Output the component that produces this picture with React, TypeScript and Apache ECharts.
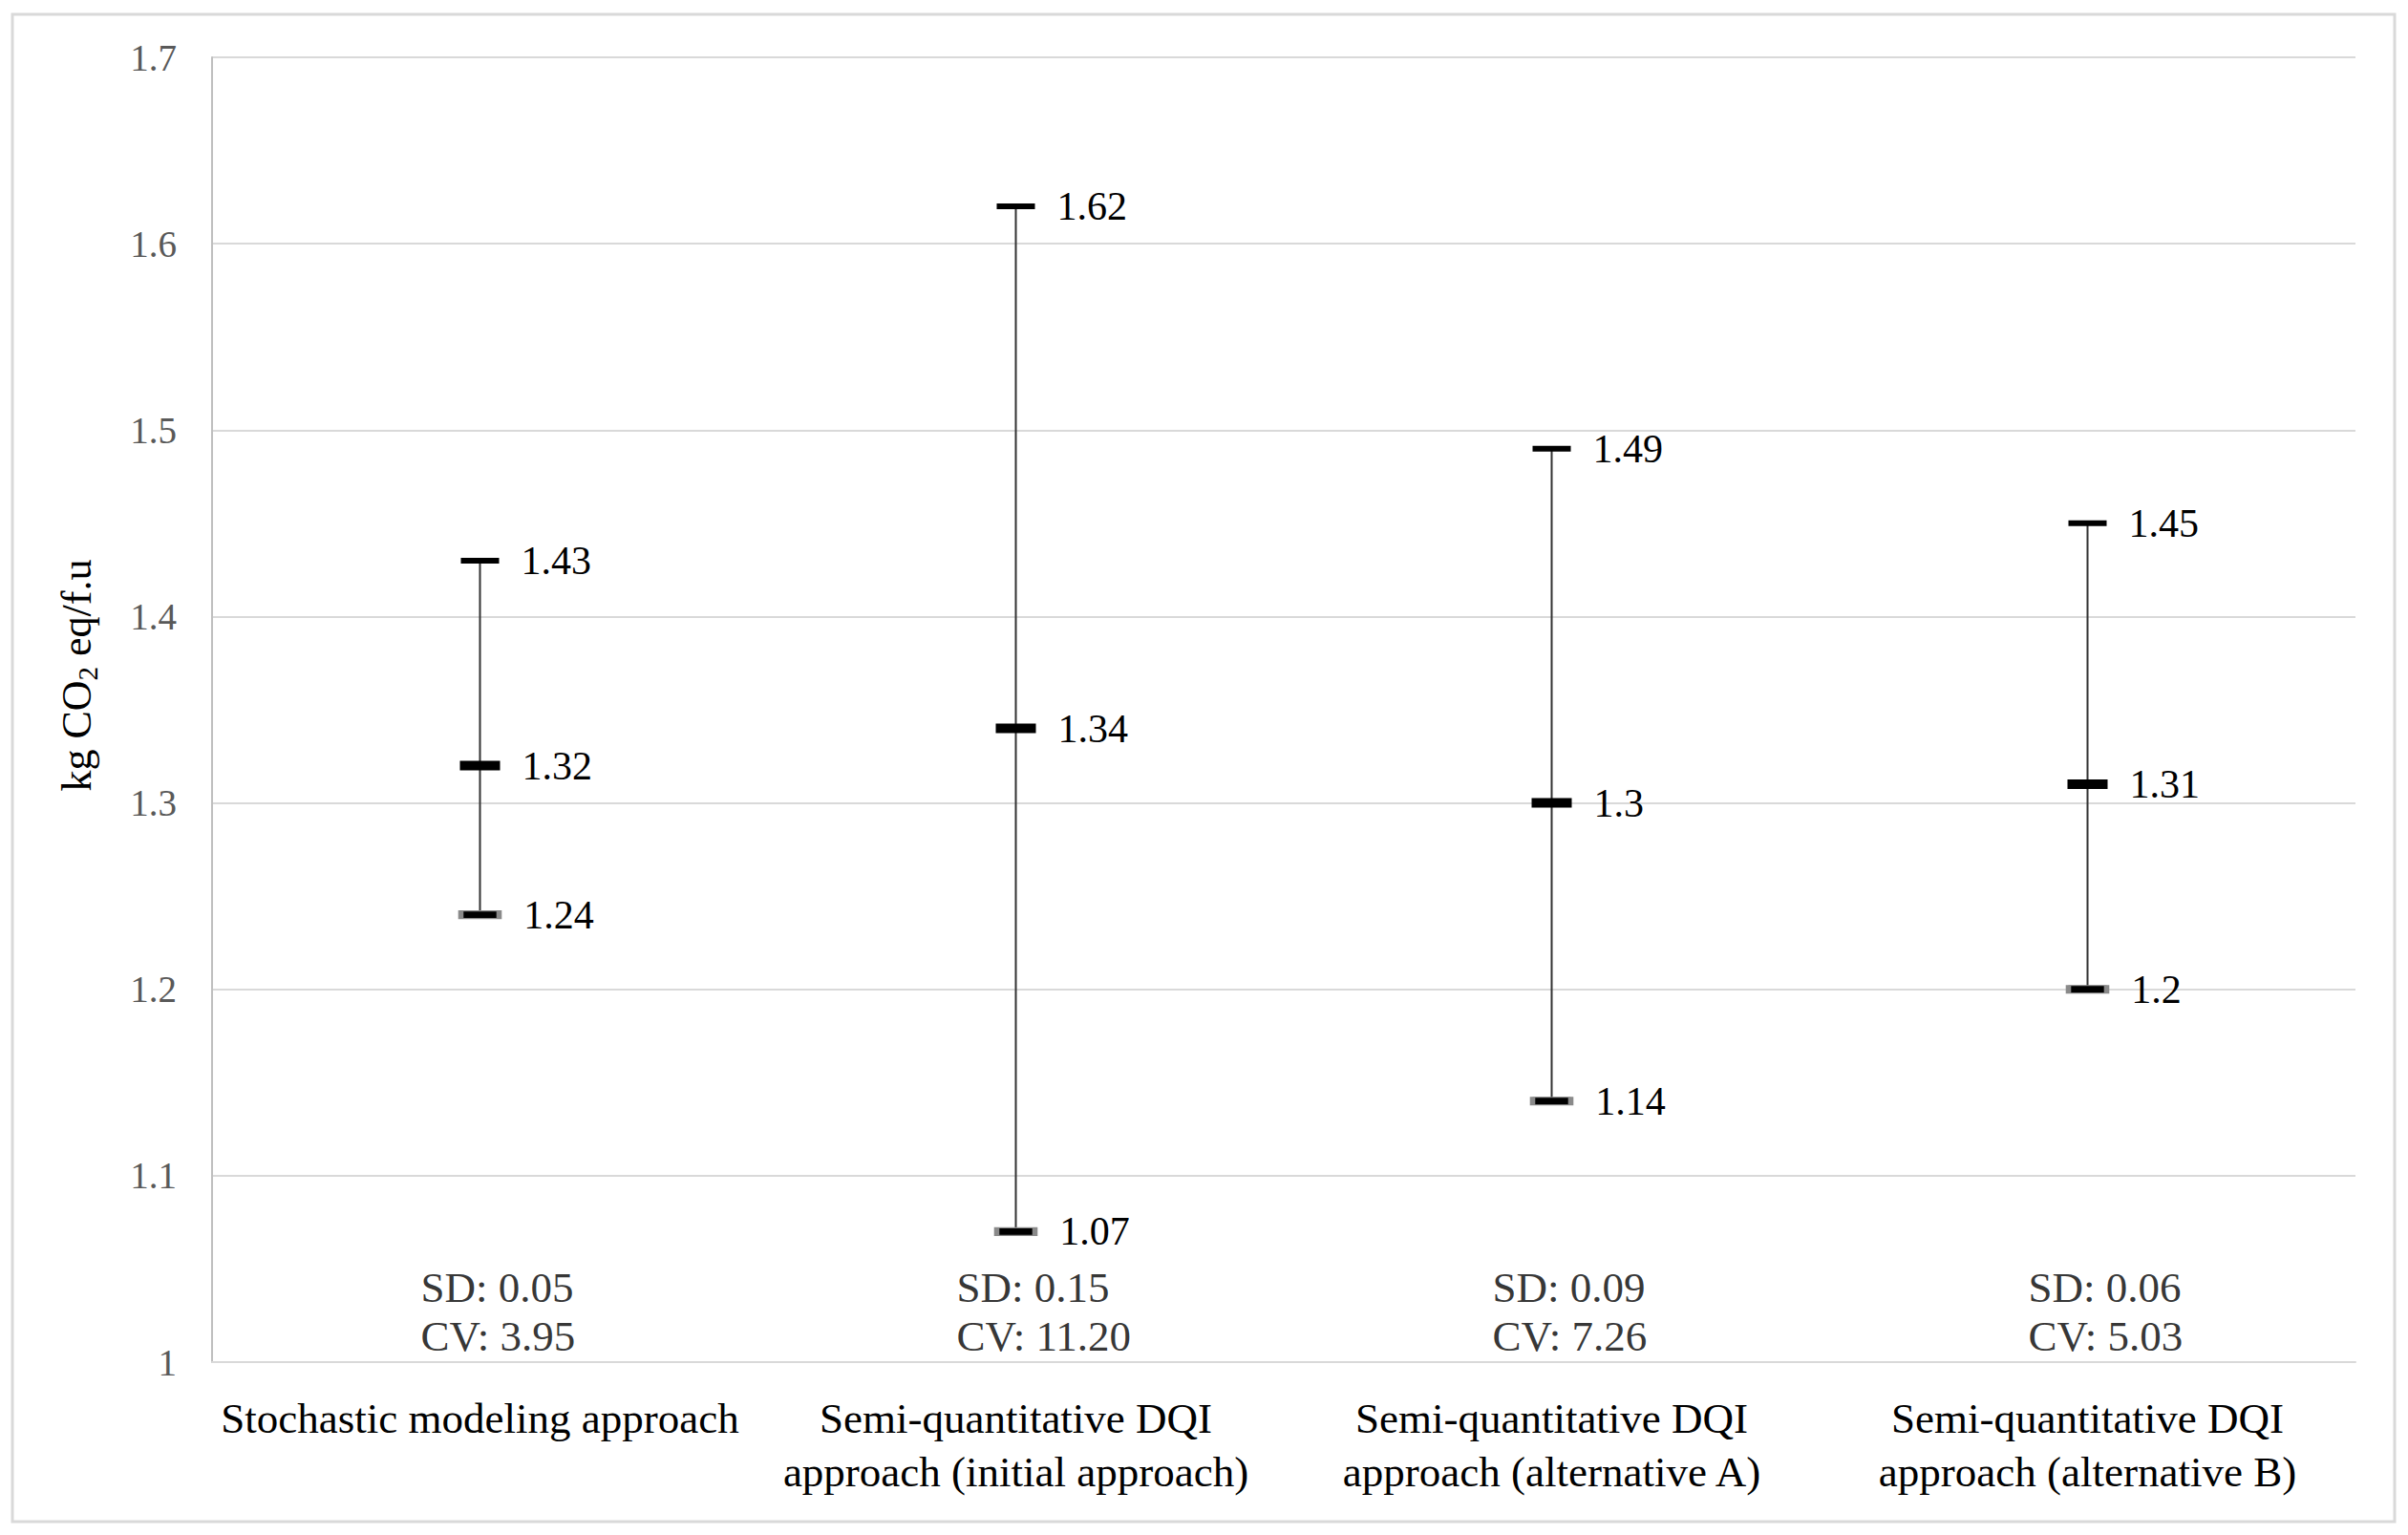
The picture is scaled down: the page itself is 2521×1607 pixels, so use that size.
import React, { useEffect, useRef } from "react";
import * as echarts from "echarts";

const categories = [
  "Stochastic modeling approach",
  "Semi-quantitative DQI\napproach (initial approach)",
  "Semi-quantitative DQI\napproach (alternative A)",
  "Semi-quantitative DQI\napproach (alternative B)",
];
const maxValues = [1.43, 1.62, 1.49, 1.45];
const meanValues = [1.32, 1.34, 1.3, 1.31];
const minValues = [1.24, 1.07, 1.14, 1.2];
const sdValues = ["0.05", "0.15", "0.09", "0.06"];
const cvValues = ["3.95", "11.20", "7.26", "5.03"];
const yMin = 1;
const yMax = 1.7;
const yInterval = 0.1;

const FONT = "'Liberation Serif', 'DejaVu Serif', serif";

export default function App() {
  const ref = useRef<HTMLDivElement>(null);
  useEffect(() => {
    if (!ref.current) return;
    const chart = echarts.init(ref.current, undefined, { renderer: "svg" });
    const labelStyle = {
      show: true,
      position: "right" as const,
      distance: 23,
      fontSize: 42,
      color: "#000",
      fontFamily: FONT,
      formatter: (p: any) => String(p.value[1]),
    };
    chart.setOption({
      animation: false,
      backgroundColor: "#fff",
      graphic: [
        {
          type: "rect",
          shape: { x: 13, y: 15, width: 2494, height: 1578 },
          style: { fill: "none", stroke: "#d9d9d9", lineWidth: 3 },
          silent: true,
        },
        {
          type: "text",
          x: 80,
          y: 707,
          rotation: Math.PI / 2,
          style: {
            text: "{a|kg CO}{s|2}{a| eq/f.u}",
            align: "center",
            verticalAlign: "middle",
            fontFamily: FONT,
            fill: "#000",
            rich: {
              a: { fontSize: 44, lineHeight: 52, fontFamily: FONT, fill: "#000" },
              s: { fontSize: 29, lineHeight: 31, verticalAlign: "bottom", fontFamily: FONT, fill: "#000" },
            },
          },
        },
      ],
      grid: { left: 222, right: 55, top: 60, bottom: 181, containLabel: false },
      xAxis: {
        type: "category",
        data: categories,
        axisLine: { show: true, lineStyle: { color: "#d9d9d9", width: 2 } },
        axisTick: { show: false },
        axisLabel: {
          fontSize: 45,
          lineHeight: 56,
          color: "#000",
          fontFamily: FONT,
          margin: 31,
          interval: 0,
        },
      },
      yAxis: {
        type: "value",
        min: yMin,
        max: yMax,
        interval: yInterval,
        axisLine: { show: true, lineStyle: { color: "#bfbfbf", width: 2 } },
        axisTick: { show: false },
        axisLabel: {
          fontSize: 39,
          color: "#595959",
          fontFamily: FONT,
          margin: 37,
          formatter: (v: number) => String(+v.toFixed(1)),
        },
        splitLine: { show: true, lineStyle: { color: "#d9d9d9", width: 2 } },
      },
      series: [
        {
          type: "custom",
          silent: true,
          z: 1,
          data: categories.map((_, i) => [i, minValues[i], maxValues[i]]),
          encode: { x: 0, y: [1, 2] },
          renderItem: (params: any, api: any) => {
            const x = api.value(0);
            const lo = api.coord([x, api.value(1)]);
            const hi = api.coord([x, api.value(2)]);
            return {
              type: "line",
              shape: { x1: lo[0], y1: lo[1], x2: hi[0], y2: hi[1] },
              style: { stroke: "#333", lineWidth: 2 },
            };
          },
        },
        {
          type: "scatter",
          silent: true,
          z: 3,
          symbol: "rect",
          symbolSize: [40, 6],
          itemStyle: { color: "#000", opacity: 1 },
          label: labelStyle,
          data: maxValues.map((v, i) => [i, v]),
        },
        {
          type: "scatter",
          silent: true,
          z: 3,
          symbol: "rect",
          symbolSize: [42, 10],
          itemStyle: { color: "#000", opacity: 1 },
          label: labelStyle,
          data: meanValues.map((v, i) => [i, v]),
        },
        {
          type: "scatter",
          silent: true,
          z: 3,
          symbol: "rect",
          symbolSize: [40, 8],
          itemStyle: { color: "#000", borderColor: "#8a8a8a", borderWidth: 2.5, opacity: 1 },
          label: labelStyle,
          data: minValues.map((v, i) => [i, v]),
        },
        {
          type: "scatter",
          silent: true,
          clip: false,
          z: 3,
          symbolSize: 0,
          data: categories.map((_, i) => [i, yMin]),
          label: {
            show: true,
            position: [-62, -104],
            align: "left",
            verticalAlign: "top",
            fontSize: 45,
            lineHeight: 51,
            color: "#000",
            fontFamily: FONT,
            formatter: (p: any) => `SD: ${sdValues[p.dataIndex]}\nCV: ${cvValues[p.dataIndex]}`,
          },
        },
      ],
    });
    return () => chart.dispose();
  }, []);
  return (
    <div
      ref={ref}
      style={{ position: "fixed", left: 0, top: 0, width: 2521, height: 1607, background: "#fff" }}
    />
  );
}
